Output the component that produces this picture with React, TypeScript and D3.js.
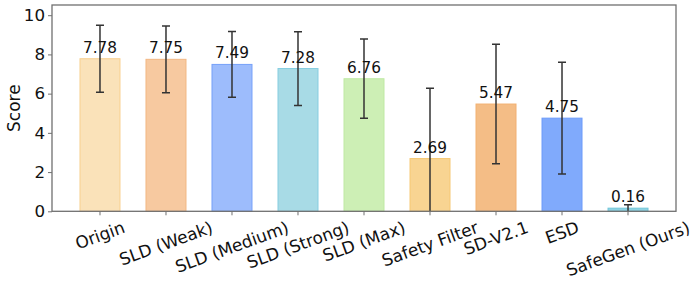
import React, { useEffect, useRef } from "react";
import * as d3 from "d3";

const categories = [
  "Origin",
  "SLD (Weak)",
  "SLD (Medium)",
  "SLD (Strong)",
  "SLD (Max)",
  "Safety Filter",
  "SD-V2.1",
  "ESD",
  "SafeGen (Ours)",
];
const scores = [7.78, 7.75, 7.49, 7.28, 6.76, 2.69, 5.47, 4.75, 0.16];
const errors = [1.71, 1.7, 1.68, 1.88, 2.02, 3.59, 3.05, 2.85, 0.18];
const yTicks = [0, 2, 4, 6, 8, 10];

const fills = ["#fae2b9", "#f7c9a0", "#9dbcfc", "#a8dbe6", "#cdefb5", "#f8d492", "#f4bd86", "#80aafc", "#8ed3e3"];
const edges = ["#f8d08f", "#f2b783", "#76a1f9", "#86cde0", "#bfe9a3", "#f6c874", "#f2b071", "#6c9bfa", "#72c6da"];

const W = 698;
const H = 283;
const FONT = "DejaVu Sans, sans-serif";

export default function App() {
  const ref = useRef<SVGSVGElement>(null);

  useEffect(() => {
    const svg = d3.select(ref.current);
    svg.selectAll("*").remove();

    const left = 52, right = 676, top = 5, bottom = 211.3;

    const x = d3.scaleBand<string>()
      .domain(categories)
      .range([left, right])
      .paddingInner(0.394)
      .paddingOuter(0.424);
    const y = d3.scaleLinear().domain([0, 10.52]).range([bottom, top]);

    const rows = categories.map((c, i) => ({ c, v: scores[i], e: errors[i], i }));

    svg.append("defs").append("clipPath").attr("id", "plot")
      .append("rect").attr("x", left).attr("y", top)
      .attr("width", right - left).attr("height", bottom - top);

    // bars
    svg.append("g").selectAll("rect").data(rows).enter().append("rect")
      .attr("x", d => x(d.c)!)
      .attr("y", d => y(d.v))
      .attr("width", x.bandwidth())
      .attr("height", d => y(0) - y(d.v))
      .attr("fill", d => fills[d.i])
      .attr("stroke", d => edges[d.i])
      .attr("stroke-width", 1);

    // error bars (clipped at the axes like matplotlib)
    const eb = svg.append("g").attr("clip-path", "url(#plot)")
      .attr("stroke", "#333").attr("stroke-width", 1.5);
    const cx = (d: any) => x(d.c)! + x.bandwidth() / 2;
    eb.selectAll("line.stem").data(rows).enter().append("line")
      .attr("x1", cx).attr("x2", cx)
      .attr("y1", d => y(d.v + d.e)).attr("y2", d => y(d.v - d.e));
    eb.selectAll("line.hi").data(rows).enter().append("line")
      .attr("x1", d => cx(d) - 4).attr("x2", d => cx(d) + 4)
      .attr("y1", d => y(d.v + d.e)).attr("y2", d => y(d.v + d.e));
    eb.selectAll("line.lo").data(rows).enter().append("line")
      .attr("x1", d => cx(d) - 4).attr("x2", d => cx(d) + 4)
      .attr("y1", d => y(d.v - d.e)).attr("y2", d => y(d.v - d.e));

    // value labels
    svg.append("g").selectAll("text").data(rows).enter().append("text")
      .attr("x", cx)
      .attr("y", d => y(d.v) - 6)
      .attr("text-anchor", "middle")
      .attr("font-family", FONT)
      .attr("font-size", 15.3)
      .attr("fill", "#111")
      .text(d => d.v.toFixed(2));

    // frame
    svg.append("rect")
      .attr("x", left).attr("y", top)
      .attr("width", right - left).attr("height", bottom - top)
      .attr("fill", "none").attr("stroke", "#707070").attr("stroke-width", 1.3);

    // y axis
    const yAxis = d3.axisLeft(y).tickValues(yTicks).tickSize(4).tickPadding(3).tickFormat(d3.format("d"));
    const ya = svg.append("g").attr("transform", `translate(${left},0)`).call(yAxis);
    ya.select(".domain").remove();
    ya.selectAll("line").attr("stroke", "#707070");
    ya.selectAll("text").attr("font-family", FONT).attr("font-size", 16.7).attr("fill", "#111");

    // x axis ticks
    const xa = svg.append("g").attr("transform", `translate(0,${bottom})`)
      .call(d3.axisBottom(x).tickSize(4).tickFormat(() => ""));
    xa.select(".domain").remove();
    xa.selectAll("line").attr("stroke", "#707070");

    // rotated x labels, rotated bbox centred on the tick
    const fs = 16.9;
    const ang = 20 * Math.PI / 180;
    const lab = svg.append("g");
    rows.forEach(d => {
      const t = lab.append("text")
        .attr("text-anchor", "middle")
        .attr("dominant-baseline", "central")
        .attr("font-family", FONT)
        .attr("font-size", fs)
        .attr("fill", "#111")
        .text(d.c);
      const w = (t.node() as SVGTextElement).getComputedTextLength();
      const h = fs * 1.16;
      const bh = w * Math.sin(ang) + h * Math.cos(ang);
      const y0 = bottom + 6;
      t.attr("transform", `translate(${cx(d)},${y0 + bh / 2}) rotate(-20)`);
    });

    // y label
    svg.append("text")
      .attr("transform", `translate(14,${(top + bottom) / 2}) rotate(-90)`)
      .attr("text-anchor", "middle")
      .attr("dominant-baseline", "central")
      .attr("font-family", FONT)
      .attr("font-size", 17)
      .attr("fill", "#111")
      .text("Score");
  }, []);

  return (
    <svg
      ref={ref}
      width={W}
      height={H}
      style={{ position: "absolute", left: 0, top: 0, background: "#fff" }}
    />
  );
}
